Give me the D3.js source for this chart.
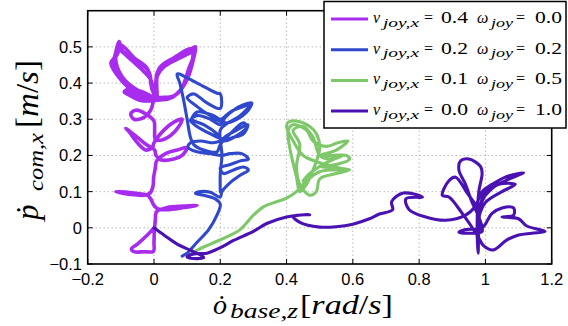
<!DOCTYPE html>
<html><head><meta charset="utf-8">
<script src="https://cdn.jsdelivr.net/npm/d3@7"></script>
<style>body{margin:0;background:#fff}svg{display:block}</style>
</head><body><svg id="c" width="568" height="326"></svg>
<script>
const xTicks=[-0.2,0,0.2,0.4,0.6,0.8,1,1.2];
const yTicks=[-0.1,0,0.1,0.2,0.3,0.4,0.5];
const xTickLabels=["\u22120.2","0","0.2","0.4","0.6","0.8","1","1.2"];
const yTickLabels=["\u22120.1","0","0.1","0.2","0.3","0.4","0.5"];
const legendV=["0.4","0.2","0.1","0.0"];
const legendW=["0.0","0.2","0.5","1.0"];
const seriesColors=["#a82ced","#3048cc","#7ec86a","#4a12b2"];

const purpleData=[[0.0,0.0],[-0.02,-0.02],[-0.05,-0.045],[-0.068,-0.058],[-0.06,-0.066],[-0.03,-0.066],[-0.002,-0.065],[0.0,-0.04],[0.001,-0.01],
[0.004,0.02],[0.008,0.045],[0.04,0.056],[0.09,0.06],[0.13,0.062],[0.09,0.056],[0.04,0.05],[0.012,0.052],
[0.0,0.062],[-0.01,0.08],[-0.02,0.09],[-0.06,0.096],[-0.115,0.1],[-0.07,0.092],[-0.03,0.09],[-0.012,0.096],
[-0.003,0.115],[-0.001,0.14],[0.004,0.165],[0.008,0.185],
[0.035,0.205],[0.07,0.215],[0.1,0.222],[0.085,0.2],[0.06,0.19],[0.02,0.188],[0.006,0.2],[0.002,0.215],
[-0.02,0.228],[-0.05,0.25],[-0.085,0.275],[-0.075,0.265],[-0.05,0.235],[-0.025,0.215],[-0.005,0.222],[0.0,0.235],
[0.03,0.27],[0.06,0.292],[0.085,0.3],[0.075,0.28],[0.05,0.255],[0.02,0.242],[0.004,0.245],[0.002,0.27],[0.0,0.295],
[-0.025,0.315],[-0.055,0.325],[-0.07,0.315],[-0.06,0.3],[-0.03,0.305],[-0.01,0.325],[-0.002,0.35],
[0.0,0.36],[-0.04,0.37],[-0.08,0.39],[-0.13,0.455],[-0.12,0.47],[-0.11,0.505],[-0.105,0.515],[-0.095,0.49],[-0.05,0.46],[-0.015,0.43],[-0.005,0.38],
[0.005,0.37],[0.01,0.43],[0.05,0.46],[0.1,0.485],[0.125,0.5],[0.12,0.47],[0.1,0.41],[0.07,0.37],[0.04,0.355],[0.01,0.355],[-0.03,0.355],[-0.07,0.365],[-0.09,0.375],[-0.07,0.385],[-0.03,0.37],[0.0,0.36],
[-0.04,0.375],[-0.09,0.41],[-0.115,0.46],[-0.11,0.5],[-0.1,0.49],[-0.04,0.44],[-0.01,0.41],[0.0,0.37],[0.015,0.44],[0.06,0.47],[0.115,0.495],[0.115,0.46],[0.09,0.395],[0.06,0.365],[0.02,0.36],[-0.02,0.36],[-0.06,0.37],[-0.08,0.38],[-0.05,0.38],[-0.01,0.365],
[-0.05,0.38],[-0.1,0.42],[-0.125,0.455],[-0.11,0.48],[-0.1,0.505],[-0.06,0.47],[-0.02,0.44],[-0.005,0.38],[0.008,0.36],[0.01,0.42],[0.03,0.445],[0.08,0.47],[0.12,0.485],[0.105,0.44],[0.08,0.38],[0.05,0.36],[0.0,0.352],[-0.04,0.352],[-0.08,0.37]];

const blueData=[[0.085,-0.078],[0.1,-0.07],[0.13,-0.04],[0.165,-0.005],[0.19,0.035],[0.2,0.065],
[0.185,0.08],[0.15,0.09],[0.125,0.095],[0.14,0.1],[0.17,0.098],[0.2,0.085],[0.205,0.1],
[0.23,0.125],[0.26,0.145],[0.285,0.16],[0.27,0.168],[0.24,0.16],[0.21,0.15],[0.2,0.165],
[0.23,0.175],[0.26,0.185],[0.285,0.19],[0.265,0.205],[0.23,0.205],[0.205,0.2],
[0.17,0.205],[0.13,0.21],[0.103,0.222],[0.11,0.235],[0.14,0.24],[0.18,0.235],[0.2,0.24],
[0.22,0.255],[0.25,0.27],[0.283,0.285],[0.27,0.26],[0.24,0.25],[0.21,0.245],
[0.17,0.26],[0.13,0.28],[0.11,0.297],[0.13,0.31],[0.17,0.3],[0.2,0.285],
[0.215,0.305],[0.24,0.325],[0.27,0.34],[0.295,0.345],[0.28,0.32],[0.25,0.3],[0.215,0.29],
[0.17,0.31],[0.13,0.335],[0.1,0.36],[0.12,0.37],[0.16,0.345],[0.2,0.33],[0.2,0.37],
[0.19,0.372],[0.13,0.4],[0.07,0.425],[0.078,0.4],[0.09,0.35],[0.1,0.3],[0.11,0.25],[0.12,0.23],[0.15,0.215],[0.19,0.21],
[0.2,0.23],[0.23,0.26],[0.27,0.29],[0.28,0.28],[0.25,0.255],[0.21,0.24],[0.19,0.26],[0.15,0.285],[0.115,0.3],[0.13,0.32],[0.18,0.31],[0.2,0.3],
[0.23,0.32],[0.27,0.335],[0.29,0.34],[0.26,0.31],[0.215,0.285],[0.2,0.27],[0.205,0.2],[0.2,0.15],[0.2,0.1]];

const greenData=[[0.1,-0.08],[0.13,-0.062],[0.17,-0.045],[0.22,-0.025],[0.26,-0.005],[0.3,0.035],[0.33,0.058],[0.37,0.072],[0.4,0.082],[0.43,0.1],[0.46,0.13],[0.5,0.155],[0.54,0.16],[0.58,0.16],[0.54,0.17],[0.5,0.18],[0.45,0.2],[0.42,0.24],[0.4,0.28],[0.405,0.292],[0.43,0.295],[0.47,0.28],[0.49,0.26],[0.5,0.22],[0.48,0.16],[0.46,0.12],[0.44,0.1],[0.43,0.14],[0.41,0.22],[0.405,0.27],[0.42,0.285],[0.46,0.27],[0.48,0.24],[0.52,0.225],[0.555,0.235],[0.585,0.24],[0.55,0.215],[0.5,0.2],[0.54,0.2],[0.58,0.2],[0.59,0.19],[0.55,0.175],[0.5,0.17],[0.55,0.165],[0.59,0.16],[0.55,0.15],[0.5,0.135],[0.49,0.1],[0.47,0.09],[0.44,0.12],[0.43,0.17],[0.44,0.23],[0.42,0.27],[0.45,0.28],[0.48,0.25],[0.5,0.2],[0.53,0.19],[0.57,0.2],[0.52,0.18],[0.47,0.15],[0.45,0.13]];

const darkData=[[0.0,0.0],[0.03,-0.02],[0.07,-0.045],[0.11,-0.062],[0.14,-0.075],[0.15,-0.082],[0.12,-0.085],[0.1,-0.08],[0.12,-0.072],[0.16,-0.07],[0.2,-0.055],[0.24,-0.035],[0.3,-0.01],[0.34,0.012],[0.4,0.03],[0.44,0.035],[0.47,0.036],[0.42,0.032],[0.44,0.015],[0.5,0.002],[0.55,0.003],[0.6,0.01],[0.65,0.025],[0.68,0.038],[0.72,0.05],[0.717,0.072],[0.752,0.096],[0.81,0.085],[0.76,0.08],[0.77,0.05],[0.82,0.03],[0.88,0.021],[0.94,0.035],
[0.97,0.06],[0.99,0.1],[1.02,0.12],[1.06,0.14],[1.115,0.152],[1.06,0.13],[1.0,0.1],[0.985,0.06],[0.98,0.0],[0.978,-0.07],[0.975,0.0],[0.98,0.1],[0.99,0.15],[0.985,0.17],[0.95,0.19],[0.925,0.185],[0.92,0.16],[0.94,0.12],[0.96,0.07],[0.98,0.03],[0.99,-0.01],[0.96,-0.015],[0.92,-0.012],[0.94,-0.005],[0.99,0.0],[1.02,0.04],[1.05,0.055],[1.085,0.055],[1.085,0.035],[1.05,0.03],[1.1,0.025],[1.125,0.005],[1.18,-0.01],[1.14,-0.015],[1.1,-0.02],[1.064,-0.034],[1.024,-0.061],[0.995,-0.05],[0.975,-0.02],[0.93,0.04],[0.89,0.085],[0.87,0.09],[0.89,0.13],[0.91,0.14],[0.95,0.09],[0.98,0.06],[1.0,0.09],[1.04,0.12],[1.09,0.12],[1.05,0.1],[1.0,0.07],[0.98,0.03]];

const allSeries=[purpleData,blueData,greenData,darkData];

const L=87.7,R=551.7,T=10.7,B=264;
const svg=d3.select("#c");
const x=d3.scaleLinear().domain([-0.2,1.2]).range([L,R]);
const y=d3.scaleLinear().domain([-0.1,0.6]).range([B,T]);

svg.append("defs").append("clipPath").attr("id","clip").append("rect").attr("x",L).attr("y",T).attr("width",R-L).attr("height",B-T);

// grid
const g=svg.append("g");
g.selectAll(".gx").data(xTicks).enter().append("line").attr("x1",d=>x(d)).attr("x2",d=>x(d)).attr("y1",T).attr("y2",B)
 .attr("stroke","#9a9a9a").attr("stroke-width",1).attr("stroke-dasharray","1,3");
g.selectAll(".gy").data(yTicks).enter().append("line").attr("y1",d=>y(d)).attr("y2",d=>y(d)).attr("x1",L).attr("x2",R)
 .attr("stroke","#9a9a9a").attr("stroke-width",1).attr("stroke-dasharray","1,3");

// series
const line=d3.line().x(d=>x(d[0])).y(d=>y(d[1])).curve(d3.curveCatmullRom.alpha(0.5));
const sg=svg.append("g").attr("clip-path","url(#clip)");
allSeries.forEach((s,i)=>{
  sg.append("path").attr("d",line(s)).attr("fill","none").attr("stroke",seriesColors[i])
    .attr("stroke-width",i===0?3.6:3.1).attr("stroke-linejoin","round").attr("stroke-linecap","round");
});

// ticks inward
const tk=5;
xTicks.forEach(t=>{
  svg.append("line").attr("x1",x(t)).attr("x2",x(t)).attr("y1",B).attr("y2",B-tk).attr("stroke","#000");
  svg.append("line").attr("x1",x(t)).attr("x2",x(t)).attr("y1",T).attr("y2",T+tk).attr("stroke","#000");
});
yTicks.forEach(t=>{
  svg.append("line").attr("y1",y(t)).attr("y2",y(t)).attr("x1",L).attr("x2",L+tk).attr("stroke","#000");
  svg.append("line").attr("y1",y(t)).attr("y2",y(t)).attr("x1",R).attr("x2",R-tk).attr("stroke","#000");
});
svg.append("rect").attr("x",L).attr("y",T).attr("width",R-L).attr("height",B-T).attr("fill","none").attr("stroke","#000").attr("stroke-width",1.6);

// tick labels
const tf="'Liberation Sans',Arial,sans-serif";
xTicks.forEach((t,i)=>{
  svg.append("text").attr("x",x(t)).attr("y",284.5).attr("text-anchor","middle").attr("font-family",tf).attr("font-size",16.5).text(xTickLabels[i]);
});
yTicks.forEach((t,i)=>{
  svg.append("text").attr("x",82).attr("y",y(t)+6).attr("text-anchor","end").attr("font-family",tf).attr("font-size",16.5).text(yTickLabels[i]);
});

// axis labels
const sf="'Liberation Serif','DejaVu Serif',serif";
const xl=svg.append("g").attr("font-family",sf);
xl.append("text").attr("x",213).attr("y",314).attr("font-size",28).attr("font-style","italic").text("\u022F");
xl.append("text").attr("x",230).attr("y",318).attr("font-size",20).attr("font-style","italic").attr("textLength",68).attr("lengthAdjust","spacingAndGlyphs").text("base,z");
xl.append("text").attr("x",300).attr("y",314).attr("font-size",28).attr("textLength",93).attr("lengthAdjust","spacingAndGlyphs")
  .html('[<tspan font-style="italic">rad</tspan>/<tspan font-style="italic">s</tspan>]');

const yl=svg.append("g").attr("font-family",sf).attr("transform","translate(38,0) rotate(-90)");
yl.append("text").attr("x",-220).attr("y",0).attr("font-size",31).attr("font-style","italic").text("\u1E57");
yl.append("text").attr("x",-191).attr("y",5).attr("font-size",21).attr("font-style","italic").attr("textLength",58).attr("lengthAdjust","spacingAndGlyphs").text("com,x");
yl.append("text").attr("x",-128).attr("y",0).attr("font-size",31).attr("textLength",68).attr("lengthAdjust","spacingAndGlyphs")
  .html('[<tspan font-style="italic">m</tspan>/<tspan font-style="italic">s</tspan>]');

// legend
svg.append("rect").attr("x",324).attr("y",1.5).attr("width",242).attr("height",126.5).attr("fill","#fff").attr("stroke","#000").attr("stroke-width",1.5);
legendV.forEach((v,i)=>{
  const ly=19+i*30.7, bl=ly+4;
  svg.append("line").attr("x1",331).attr("x2",368).attr("y1",ly).attr("y2",ly).attr("stroke",seriesColors[i]).attr("stroke-width",3);
  const lg=svg.append("g").attr("font-family",sf).attr("font-size",16);
  lg.append("text").attr("x",373).attr("y",bl).attr("font-style","italic").text("v");
  lg.append("text").attr("x",383).attr("y",bl+3.5).attr("font-size",11.5).attr("font-style","italic").attr("textLength",36).attr("lengthAdjust","spacingAndGlyphs").text("joy,x");
  lg.append("text").attr("x",424).attr("y",bl).text("=");
  lg.append("text").attr("x",441).attr("y",bl).attr("textLength",27).attr("lengthAdjust","spacingAndGlyphs").text(v);
  lg.append("text").attr("x",477).attr("y",bl).attr("font-style","italic").text("\u03C9");
  lg.append("text").attr("x",491).attr("y",bl+3.5).attr("font-size",11.5).attr("font-style","italic").attr("textLength",22).attr("lengthAdjust","spacingAndGlyphs").text("joy");
  lg.append("text").attr("x",516).attr("y",bl).text("=");
  lg.append("text").attr("x",535).attr("y",bl).attr("textLength",27).attr("lengthAdjust","spacingAndGlyphs").text(legendW[i]);
});
</script></body></html>
